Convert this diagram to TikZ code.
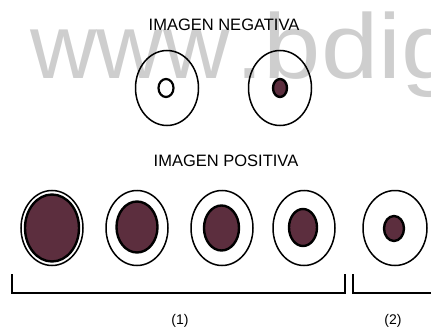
\documentclass[tikz,border=0pt]{standalone}
\usepackage{fontspec}
\setmainfont{Liberation Sans}
\definecolor{pupil}{RGB}{92,46,62}
\definecolor{mark}{RGB}{206,206,206}
\tikzset{
  eyering/.style={draw=black, line width=1.5pt},
  openpupil/.style={draw=black, line width=2.2pt},
  fullpupil/.style={draw=black, fill=pupil, line width=2.4pt},
  heading/.style={anchor=base, inner sep=0pt, font=\fontsize{16.5}{18}\selectfont},
  groupmark/.style={anchor=base, inner sep=0pt, font=\fontsize{14}{16}\selectfont},
  bracket/.style={draw=black, line width=1.6pt, line join=miter},
  watermark/.style={anchor=base west, inner sep=0pt, text=mark,
                    font=\fontsize{92}{92}\selectfont}
}
\begin{document}
\begin{tikzpicture}[x=1pt, y=-1pt]
  \useasboundingbox (0,0) rectangle (431,329);
  % background watermark
  \begin{scope}
    \clip (0,0) rectangle (431,329);
    \node[watermark] (wm1) at (30,78) {www};
    \node[watermark, xscale=1.12] (wm2) at (235,78) {.bdig};
  \end{scope}

  % negative image
  \node[heading] (neg) at (224,31) {IMAGEN NEGATIVA};
  \draw[eyering] (167,88) ellipse [x radius=31.5pt, y radius=37.5pt];
  \draw[openpupil] (166,88) ellipse [x radius=7.5pt, y radius=9pt];
  \draw[eyering] (280,88) ellipse [x radius=31.5pt, y radius=37.5pt];
  \draw[fullpupil] (280,88) ellipse [x radius=7pt, y radius=9pt];

  % positive image
  \node[heading] (pos) at (226,166) {IMAGEN POSITIVA};
  \draw[eyering] (52,228) ellipse [x radius=31pt, y radius=37.5pt];
  \draw[fullpupil] (52,228) ellipse [x radius=27pt, y radius=33.5pt];
  \draw[eyering] (137,228) ellipse [x radius=31pt, y radius=37.5pt];
  \draw[fullpupil] (137,227) ellipse [x radius=20.5pt, y radius=25.5pt];
  \draw[eyering] (222,228) ellipse [x radius=31pt, y radius=37.5pt];
  \draw[fullpupil] (221.5,228) ellipse [x radius=17.5pt, y radius=22.5pt];
  \draw[eyering] (304,228) ellipse [x radius=31pt, y radius=37.5pt];
  \draw[fullpupil] (303,227.5) ellipse [x radius=14pt, y radius=18.5pt];
  \draw[eyering] (395,228) ellipse [x radius=32pt, y radius=37.5pt];
  \draw[fullpupil] (394,228.5) ellipse [x radius=10pt, y radius=12.5pt];

  % grouping brackets
  \coordinate (b1a) at (12,274);
  \coordinate (b1b) at (345,274);
  \coordinate (b2a) at (353,274);
  \coordinate (b2b) at (433,293);
  \draw[bracket] (b1a) |- (b1b |- 0,293) -- (b1b);
  \draw[bracket] (b2a) |- (b2b);
  \node[groupmark] (g1) at (180,324) {(1)};
  \node[groupmark] (g2) at (393,324) {(2)};
\end{tikzpicture}
\end{document}
